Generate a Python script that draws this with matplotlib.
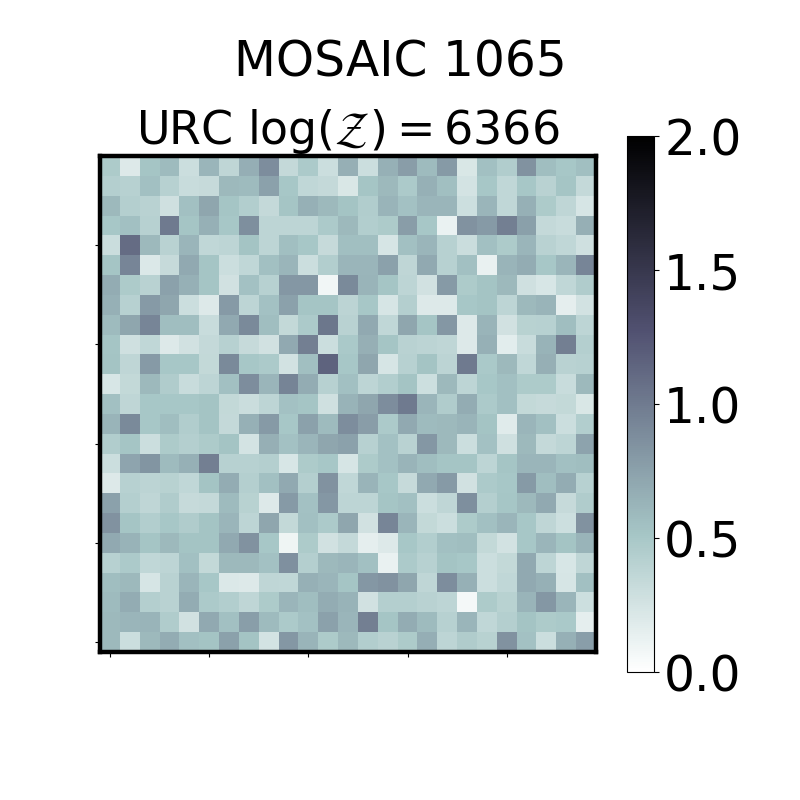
import numpy as np
import matplotlib
matplotlib.use('Agg')
import matplotlib.pyplot as plt

title = 'MOSAIC 1065'
subtitle = r'URC $\log(\mathcal{Z}) = 6366$'
cbar_ticks = [0.0, 0.5, 1.0, 1.5, 2.0]
tick_pos = [0.5, 5.5, 10.5, 15.5, 20.5]

# top row first
values = [
	[.47,.2,.52,.58,.3,.62,.37,.67,.88,.34,.48,.3,.66,.3,.65,.78,.58,.8,.22,.55,.45,.85,.57,.5,.56],
	[.43,.42,.55,.42,.32,.33,.6,.58,.75,.5,.36,.34,.22,.52,.6,.48,.65,.56,.25,.5,.36,.5,.4,.52,.34],
	[.6,.43,.4,.28,.55,.72,.52,.44,.34,.52,.65,.6,.53,.45,.63,.54,.62,.62,.29,.62,.36,.65,.47,.37,.24],
	[.5,.55,.42,1.0,.52,.65,.5,.87,.38,.38,.38,.48,.6,.44,.47,.78,.5,.12,.85,.8,.97,.76,.34,.32,.66],
	[.31,1.1,.6,.4,.62,.36,.38,.53,.38,.56,.5,.33,.56,.56,.24,.55,.62,.42,.31,.55,.47,.62,.4,.36,.28],
	[.52,.93,.21,.33,.7,.52,.3,.36,.55,.62,.3,.44,.62,.62,.75,.37,.7,.42,.55,.13,.63,.68,.5,.62,.93],
	[.68,.47,.4,.75,.65,.52,.27,.54,.42,.82,.82,.08,.9,.63,.52,.38,.27,.8,.47,.53,.6,.28,.23,.36,.46],
	[.65,.42,.8,.72,.3,.2,.8,.38,.54,.75,.52,.52,.39,.5,.24,.43,.2,.2,.5,.53,.38,.6,.63,.15,.26],
	[.58,.72,.93,.57,.57,.32,.7,.9,.57,.35,.48,1.03,.4,.7,.36,.72,.52,.82,.2,.63,.27,.41,.42,.57,.38],
	[.52,.28,.36,.2,.27,.34,.42,.33,.27,.7,.97,.3,.49,.66,.52,.4,.39,.37,.2,.65,.17,.32,.64,.97,.43],
	[.53,.37,.8,.5,.5,.35,.9,.5,.48,.26,.56,1.15,.5,.72,.24,.42,.53,.39,1.0,.49,.6,.36,.66,.4,.42],
	[.23,.35,.6,.46,.32,.38,.55,.88,.62,.94,.68,.42,.55,.38,.44,.53,.29,.6,.38,.5,.55,.47,.47,.32,.6],
	[.55,.37,.5,.5,.5,.53,.35,.31,.38,.54,.52,.28,.64,.72,.88,1.0,.62,.46,.68,.48,.55,.35,.33,.35,.22],
	[.63,.9,.5,.57,.45,.53,.34,.65,.8,.5,.75,.58,.88,.78,.48,.7,.58,.6,.63,.53,.18,.62,.55,.3,.44],
	[.45,.52,.3,.47,.43,.47,.53,.25,.66,.54,.62,.72,.75,.42,.54,.4,.82,.6,.3,.54,.28,.6,.34,.38,.74],
	[.3,.73,.83,.58,.65,.97,.42,.42,.43,.23,.47,.5,.24,.47,.54,.63,.57,.52,.52,.38,.52,.62,.62,.55,.57],
	[.2,.42,.39,.41,.36,.53,.68,.43,.55,.7,.43,.85,.36,.63,.5,.33,.7,.8,.27,.48,.5,.8,.57,.68,.42],
	[.75,.43,.37,.46,.33,.34,.58,.41,.2,.8,.54,.82,.38,.38,.52,.55,.3,.37,.87,.43,.51,.6,.7,.33,.46],
	[.85,.52,.44,.5,.46,.53,.62,.38,.72,.35,.55,.48,.72,.27,.93,.62,.35,.3,.47,.55,.62,.5,.37,.29,.85],
	[.7,.64,.52,.6,.53,.53,.7,.85,.5,.1,.47,.27,.34,.15,.2,.5,.44,.55,.57,.35,.26,.5,.62,.53,.63],
	[.42,.48,.36,.38,.55,.35,.6,.6,.54,.86,.43,.6,.62,.55,.13,.48,.42,.53,.5,.3,.35,.7,.38,.23,.37],
	[.57,.6,.24,.4,.62,.5,.21,.2,.37,.36,.65,.62,.52,.82,.85,.72,.37,.88,.65,.3,.36,.7,.65,.24,.55],
	[.58,.68,.43,.4,.68,.48,.44,.37,.47,.62,.57,.68,.64,.27,.43,.43,.4,.38,.07,.47,.41,.63,.82,.62,.29],
	[.6,.62,.63,.46,.27,.7,.55,.77,.58,.48,.54,.75,.62,.97,.52,.68,.58,.42,.62,.36,.43,.53,.47,.49,.15],
	[.6,.3,.6,.68,.55,.53,.75,.53,.25,.82,.63,.47,.6,.44,.4,.47,.67,.38,.46,.41,.85,.54,.3,.65,.77],
]

fig = plt.figure(figsize=(8, 8), dpi=100)
ax = fig.add_axes([0.125, 0.185, 0.62, 0.62])
cax = fig.add_axes([0.784, 0.16, 0.034, 0.67])

mesh = ax.pcolormesh(np.array(values)[::-1], cmap='bone_r', vmin=0, vmax=2)
ax.set_aspect('equal')
ax.set_xticks(tick_pos)
ax.set_yticks(tick_pos)
ax.set_xticklabels([])
ax.set_yticklabels([])
ax.tick_params(length=3.5, width=0.8)
for s in ax.spines.values():
	s.set_linewidth(3.2)
ax.set_title(subtitle, fontsize=33, pad=8)

cb = fig.colorbar(mesh, cax=cax)
cb.set_ticks(cbar_ticks)
cb.ax.tick_params(labelsize=35, length=3.5, width=0.8)
cb.outline.set_linewidth(0.8)

fig.text(0.5, 0.922, title, fontsize=35, ha='center', va='center')
fig.savefig('out.png', dpi=100)
